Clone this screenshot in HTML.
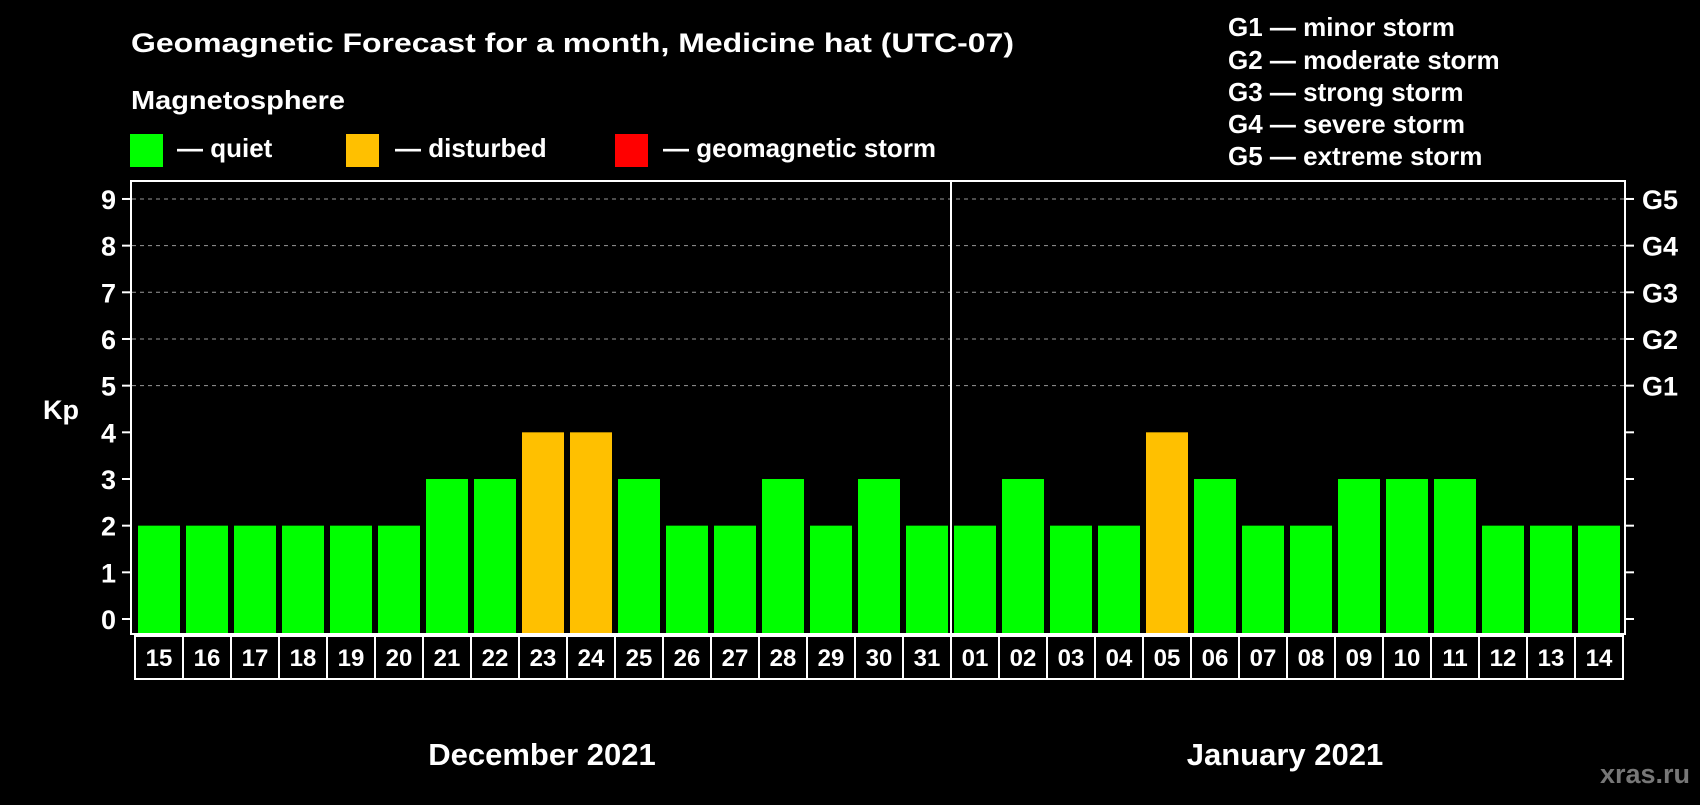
<!DOCTYPE html>
<html><head><meta charset="utf-8"><style>
body{margin:0;background:#000;}
svg text{font-family:"Liberation Sans",Arial,sans-serif;font-weight:bold;fill:#fff;}
</style></head><body>
<svg id="chart" width="1700" height="800" viewBox="0 0 1700 800" xmlns="http://www.w3.org/2000/svg">
<rect width="1700" height="800" fill="#000"/>
<text x="131" y="52" font-size="27" textLength="883" lengthAdjust="spacingAndGlyphs">Geomagnetic Forecast for a month, Medicine hat (UTC-07)</text>
<text x="131" y="109" font-size="26" textLength="214" lengthAdjust="spacingAndGlyphs">Magnetosphere</text>
<rect x="130" y="134" width="33" height="33" fill="#00ff00"/>
<text x="177" y="157" font-size="26">— quiet</text>
<rect x="346" y="134" width="33" height="33" fill="#ffc000"/>
<text x="395" y="157" font-size="26">— disturbed</text>
<rect x="615" y="134" width="33" height="33" fill="#ff0000"/>
<text x="663" y="157" font-size="26">— geomagnetic storm</text>
<g font-size="26">
<text x="1228" y="36">G1 — minor storm</text>
<text x="1228" y="69">G2 — moderate storm</text>
<text x="1228" y="101">G3 — strong storm</text>
<text x="1228" y="133">G4 — severe storm</text>
<text x="1228" y="165">G5 — extreme storm</text>
</g>
<text x="43" y="419" font-size="27">Kp</text>
<g id="grid"></g>
<g id="bars"></g>
<rect x="131" y="181" width="1494" height="453" fill="none" stroke="#fff" stroke-width="2"/>
<g id="axes"></g>
<text x="542" y="765" font-size="31" text-anchor="middle">December 2021</text>
<text x="1285" y="765" font-size="31" text-anchor="middle">January 2021</text>
<text x="1690" y="783" font-size="27" text-anchor="end" style="fill:#777">xras.ru</text>
</svg>
<script>
const days=["15","16","17","18","19","20","21","22","23","24","25","26","27","28","29","30","31","01","02","03","04","05","06","07","08","09","10","11","12","13","14"];
const kpValues=[2,2,2,2,2,2,3,3,4,4,3,2,2,3,2,3,2,2,3,2,2,4,3,2,2,3,3,3,2,2,2];
const yTicks=[0,1,2,3,4,5,6,7,8,9];
const gLabels=["G1","G2","G3","G4","G5"];
const NS="http://www.w3.org/2000/svg";
function y(v){return 619-v*46.67;}
function x(i){return 138+i*48;}
function mk(tag,attrs,parent,txt){const e=document.createElementNS(NS,tag);for(const k in attrs)e.setAttribute(k,attrs[k]);if(txt!==undefined)e.textContent=txt;document.getElementById(parent).appendChild(e);return e;}
function color(v){return v>=5?"#ff0000":v>=4?"#ffc000":"#00ff00";}
yTicks.forEach(t=>{
  if(t>=5){const g=mk('line',{x1:132,x2:1624,y1:y(t),y2:y(t),stroke:'#999','stroke-width':1,'stroke-dasharray':'4,4'},'grid');
  
  }
  const l=mk('line',{x1:122,x2:131,y1:y(t),y2:y(t),stroke:'#fff','stroke-width':2},'axes');
  
  
  const r=mk('line',{x1:1625,x2:1634,y1:y(t),y2:y(t),stroke:'#fff','stroke-width':2},'axes');
  
  
  const tl=mk('text',{x:116,y:y(t)+10,'font-size':27,'text-anchor':'end'},'axes',String(t));
  
  
});
gLabels.forEach((g,i)=>{
  const t=mk('text',{x:1642,y:y(i+5)+10,'font-size':27},'axes',g);
  
  
});
kpValues.forEach((v,i)=>{
  const b=mk('rect',{x:x(i),y:y(v),width:42,height:634-y(v),fill:color(v)},'bars');
  
  
  const c=mk('rect',{x:x(i)-3,y:636,width:48,height:43,fill:'none',stroke:'#fff','stroke-width':2},'axes');
  
  
  const t=mk('text',{x:x(i)+21,y:666,'font-size':24,'text-anchor':'middle'},'axes',days[i]);
  
  
});
const di=days.indexOf("01");
const d=mk('line',{x1:x(di)-3,x2:x(di)-3,y1:181,y2:634,stroke:'#fff','stroke-width':2},'axes');


</script>
</body></html>
